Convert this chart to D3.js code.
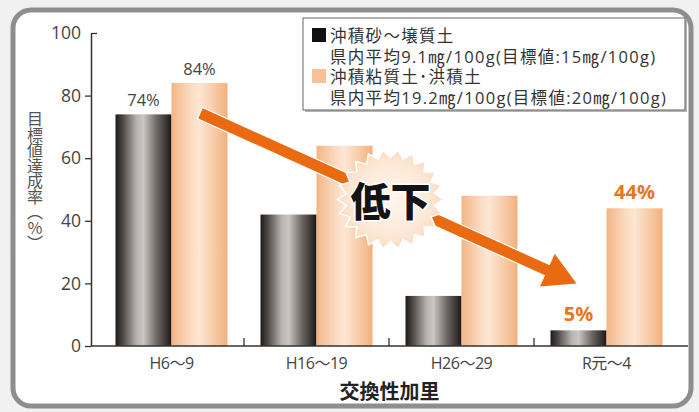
<!DOCTYPE html>
<html>
<head>
<meta charset="utf-8">
<script src="https://cdn.jsdelivr.net/npm/d3@7"></script>
<style>
  body { margin: 0; background: #f1f1f1; }
  svg { display: block; font-family: "Noto Sans CJK JP", "Noto Sans", sans-serif; }
  .num { font-family: "Open Sans", "Noto Sans CJK JP", sans-serif; }
</style>
</head>
<body>
<div id="chart"></div>
<script>
// data
var categories = ["H6～9", "H16～19", "H26～29", "R元～4"];
var seriesKeys = ["sandy", "clay"];
var sandy = [74, 42, 16, 5];   // 沖積砂～壌質土
var clay = [84, 64, 48, 44];   // 沖積粘質土・洪積土
var yTicks = [0, 20, 40, 60, 80, 100];
var legendLines = [
    ["沖積砂～壌質土", "県内平均9.1㎎/100g(目標値:15㎎/100g)"],
    ["沖積粘質土･洪積土", "県内平均19.2㎎/100g(目標値:20㎎/100g)"]
];
// which bars carry a value label, and the label style
var sandyLabels = ["74%", null, null, "5%"];
var clayLabels = ["84%", null, null, "44%"];
var highlight = [false, false, false, true];

var W = 699, H = 412;

var svg = d3.select("#chart").append("svg")
    .attr("width", W)
    .attr("height", H);

var defs = svg.append("defs");

// metallic dark bar
var gDark = defs.append("linearGradient").attr("id", "gDark")
    .attr("x1", 0).attr("x2", 1).attr("y1", 0).attr("y2", 0);
[[0, "#1f1a18"], [0.12, "#4a4441"], [0.38, "#b9b5b2"], [0.5, "#c9c6c3"], [0.75, "#6a6461"], [1, "#1c1715"]]
    .forEach(function(s) { gDark.append("stop").attr("offset", s[0]).attr("stop-color", s[1]); });

// peach bar
var gLight = defs.append("linearGradient").attr("id", "gLight")
    .attr("x1", 0).attr("x2", 1).attr("y1", 0).attr("y2", 0);
[[0, "#f3b584"], [0.35, "#fbdcc3"], [0.5, "#fde6d3"], [0.8, "#f7c7a0"], [1, "#f2b07c"]]
    .forEach(function(s) { gLight.append("stop").attr("offset", s[0]).attr("stop-color", s[1]); });

var gBurst = defs.append("radialGradient").attr("id", "gBurst");
[[0, "#fff6ee"], [0.7, "#fde9d8"], [1, "#f9dcc2"]]
    .forEach(function(s) { gBurst.append("stop").attr("offset", s[0]).attr("stop-color", s[1]); });

// page background + rounded frame
svg.append("rect").attr("width", W).attr("height", H).attr("fill", "#f1f1f1");
svg.append("rect")
    .attr("x", 13).attr("y", 10)
    .attr("width", 678).attr("height", 396)
    .attr("rx", 18)
    .attr("fill", "#fff")
    .attr("stroke", "#8e8e8e")
    .attr("stroke-width", 5);

// scales
var y = d3.scaleLinear().domain([0, 100]).range([346, 33]);
var x = d3.scaleBand().domain(categories).range([99, 679]);
var xSub = d3.scaleBand().domain(seriesKeys).range([16.5, x.bandwidth() - 16.5]);

var rows = categories.map(function(c, i) {
    return {cat: c, i: i, vals: [
        {key: "sandy", v: sandy[i], label: sandyLabels[i]},
        {key: "clay", v: clay[i], label: clayLabels[i]}
    ]};
});

// bars
var groups = svg.selectAll("g.grp")
    .data(rows)
    .enter().append("g")
    .attr("class", "grp")
    .attr("transform", function(d) { return "translate(" + x(d.cat) + ",0)"; });

groups.selectAll("rect")
    .data(function(d) { return d.vals; })
    .enter().append("rect")
    .attr("x", function(d) { return xSub(d.key); })
    .attr("y", function(d) { return y(d.v); })
    .attr("width", xSub.bandwidth())
    .attr("height", function(d) { return y(0) - y(d.v); })
    .attr("fill", function(d) { return d.key == "sandy" ? "url(#gDark)" : "url(#gLight)"; });

// axes
var yAxis = svg.append("g")
    .attr("transform", "translate(91,0)")
    .call(d3.axisLeft(y).tickValues(yTicks).tickSize(6).tickPadding(4).tickSizeOuter(0));
yAxis.select(".domain").attr("stroke", "#333").attr("stroke-width", 1.5);
yAxis.selectAll(".tick line").attr("stroke", "#333").attr("stroke-width", 1.3);
yAxis.selectAll(".tick text")
    .attr("class", "num")
    .attr("fill", "#444").style("font-size", "17.5px");
// the top tick points inward
yAxis.selectAll(".tick").filter(function(d) { return d == 100; })
    .select("line").attr("x2", 6);

var xAxis = svg.append("g")
    .attr("transform", "translate(0," + y(0) + ")")
    .call(d3.axisBottom(x).tickSize(0));
xAxis.select(".domain").remove();
xAxis.selectAll(".tick text")
    .attr("class", "num")
    .attr("y", 17).attr("dy", "0.35em")
    .attr("fill", "#444").style("font-size", "16px")
    .style("letter-spacing", "-0.5px");
svg.append("line")
    .attr("x1", 91).attr("x2", 688)
    .attr("y1", y(0)).attr("y2", y(0))
    .attr("stroke", "#333").attr("stroke-width", 1.5);
// small upward ticks between the groups
svg.selectAll("line.sep")
    .data(categories.slice(1))
    .enter().append("line")
    .attr("class", "sep")
    .attr("x1", function(d) { return x(d); })
    .attr("x2", function(d) { return x(d); })
    .attr("y1", y(0)).attr("y2", y(0) - 8)
    .attr("stroke", "#333").attr("stroke-width", 1.3);

// axis titles
svg.append("text")
    .attr("x", 35).attr("y", 181)
    .attr("text-anchor", "middle")
    .style("writing-mode", "vertical-rl")
    .style("font-size", "16px")
    .style("letter-spacing", "-0.5px")
    .attr("fill", "#555")
    .text("目標値達成率（％）");

svg.append("text")
    .attr("x", (91 + 688) / 2).attr("y", 390)
    .attr("text-anchor", "middle")
    .attr("dominant-baseline", "central")
    .style("font-size", "20px")
    .style("font-weight", "bold")
    .attr("fill", "#222")
    .text("交換性加里");

// arrow: from top of the first sandy bar down to above the last one
var bw = xSub.bandwidth();
var p0 = [x(categories[0]) + xSub("clay") + 29, y(sandy[0]) - 1];
var p1 = [x(categories[3]) + xSub("sandy") + bw / 2 - 2, y(sandy[3] + 15)];
var ang = Math.atan2(p1[1] - p0[1], p1[0] - p0[0]);
var len = Math.hypot(p1[0] - p0[0], p1[1] - p0[1]);
var headL = 32, headW = 18, shaftW = 5.5;
var arrowPts = [
    [0, -shaftW], [len - headL, -shaftW], [len - headL, -headW],
    [len, 0], [len - headL, headW], [len - headL, shaftW], [0, shaftW]
];
svg.append("path")
    .attr("transform", "translate(" + p0[0] + "," + p0[1] + ") rotate(" + (ang * 180 / Math.PI) + ")")
    .attr("d", d3.line()(arrowPts) + "Z")
    .attr("fill", "#ea6a12")
    .attr("stroke", "#fff")
    .attr("stroke-width", 2.5)
    .attr("stroke-linejoin", "miter")
    .style("paint-order", "stroke");

// starburst with 低下 at the arrow midpoint
var mid = [(p0[0] + p1[0]) / 2 + 2, (p0[1] + p1[1]) / 2 + 1];
var spikes = 22, starPts = [];
for (var k = 0; k < spikes * 2; k++) {
    var a = Math.PI * k / spikes;
    var r = k % 2 == 0 ? 1 : 0.84;
    starPts.push([mid[0] + Math.cos(a) * 53 * r, mid[1] + Math.sin(a) * 50 * r]);
}
svg.append("path")
    .attr("d", d3.line()(starPts) + "Z")
    .attr("fill", "url(#gBurst)")
    .attr("stroke", "#fff")
    .attr("stroke-width", 1.5);
svg.append("text")
    .attr("x", mid[0]).attr("y", mid[1])
    .attr("text-anchor", "middle")
    .attr("dominant-baseline", "central")
    .style("font-size", "40px")
    .style("font-weight", "900")
    .attr("fill", "#141414")
    .attr("stroke", "#fff")
    .attr("stroke-width", 3)
    .style("paint-order", "stroke")
    .text("低下");

// value labels
groups.selectAll("text.val")
    .data(function(d) {
        return d.vals.filter(function(v) { return v.label; })
            .map(function(v) { v.hi = highlight[d.i]; return v; });
    })
    .enter().append("text")
    .attr("class", "val num")
    .attr("x", function(d) { return xSub(d.key) + bw / 2; })
    .attr("y", function(d) { return y(d.v) - (d.hi ? 9 : 8); })
    .attr("text-anchor", "middle")
    .style("font-size", function(d) { return d.hi ? "20px" : "16.5px"; })
    .style("font-weight", function(d) { return d.hi ? "bold" : "normal"; })
    .attr("fill", function(d) { return d.hi ? "#ea7420" : "#444"; })
    .attr("stroke", "#fff")
    .attr("stroke-width", function(d) { return d.hi ? 3 : 0; })
    .style("paint-order", "stroke")
    .text(function(d) { return d.label; });

// legend
var leg = svg.append("g").attr("transform", "translate(303,18)");
leg.append("rect")
    .attr("x", 2).attr("y", 2).attr("width", 382).attr("height", 92)
    .attr("fill", "#b5b5b5");
leg.append("rect")
    .attr("width", 382).attr("height", 92)
    .attr("fill", "#fff").attr("stroke", "#666").attr("stroke-width", 1);

var legColors = ["#111", "#f7c096"];
legendLines.forEach(function(lines, i) {
    var base = i * 41;
    leg.append("rect")
        .attr("x", 9).attr("y", base + 10)
        .attr("width", 14).attr("height", 14)
        .attr("fill", legColors[i]);
    lines.forEach(function(t, j) {
        leg.append("text")
            .attr("class", "num")
            .attr("x", 27).attr("y", base + 17 + j * 21)
            .attr("dominant-baseline", "central")
            .style("font-size", "16.5px")
            .style("letter-spacing", "1.3px")
            .attr("fill", "#333")
            .text(t);
    });
});
</script>
</body>
</html>
